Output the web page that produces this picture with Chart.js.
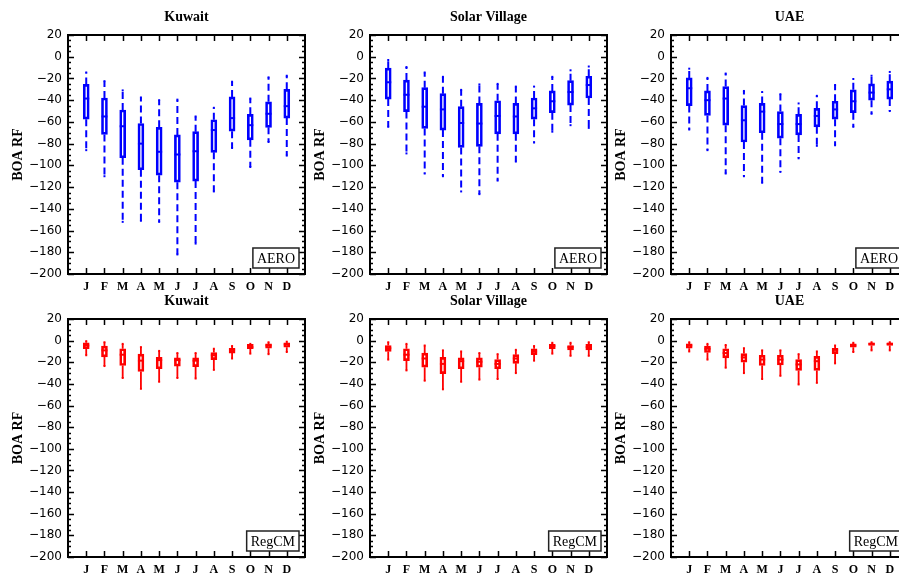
<!DOCTYPE html>
<html><head><meta charset="utf-8">
<script src="https://cdn.jsdelivr.net/npm/chart.js@4.4.1/dist/chart.umd.min.js"></script>
<style>
html,body{margin:0;padding:0;background:#fff;width:899px;height:575px;overflow:hidden;position:relative}
canvas{position:absolute}
</style></head><body>
<script>
// ---- categories ----
const months = ['J','F','M','A','M','J','J','A','S','O','N','D'];

// ---- Kuwait AERO ----
const kuwaitAeroMax = [-14.5,-22.5,-31,-37.5,-40,-39.5,-55,-47,-23,-38.5,-19,-17.5];
const kuwaitAeroQ3  = [-25.5,-38,-49,-61.5,-65,-72,-69,-58,-37,-53,-41.5,-30];
const kuwaitAeroMed = [-38.5,-55,-64,-80,-87.5,-90,-87,-67.5,-56.5,-63,-52.5,-45.5];
const kuwaitAeroQ1  = [-57.5,-71.5,-93,-104,-109,-115.5,-114.5,-88,-68.5,-76.5,-65,-56.5];
const kuwaitAeroMin = [-86,-110,-152,-151,-152,-182,-172,-124,-84,-101.5,-78.5,-91];

// ---- Solar Village AERO ----
const solarAeroMax = [-3,-9.5,-14.5,-18.5,-30.5,-25.5,-25,-27.5,-27.5,-18.5,-12.5,-9];
const solarAeroQ3  = [-10.5,-21.5,-28.5,-34,-46,-43,-40.5,-43,-38,-31.5,-22,-18];
const solarAeroMed = [-23.5,-35,-46,-48.5,-61,-61.5,-54.5,-55,-47.5,-41,-32.5,-26];
const solarAeroQ1  = [-39,-50.5,-66,-67.5,-83.5,-82.5,-71,-71,-57.5,-51.5,-44.5,-38];
const solarAeroMin = [-64.5,-89,-107.5,-110,-124,-126.5,-114,-96.5,-79,-69,-63,-65.5];

// ---- UAE AERO ----
const uaeAeroMax = [-11,-19.5,-15.5,-31.5,-32.5,-34.5,-43,-36,-26,-20.5,-17.5,-14];
const uaeAeroQ3  = [-19.5,-31.5,-27.5,-45,-43,-50.5,-53,-47.5,-41,-30.5,-25,-22.5];
const uaeAeroMed = [-29,-40,-38.5,-58.5,-50.5,-62,-62,-54.5,-48.5,-41,-33,-30];
const uaeAeroQ1  = [-45,-54,-63,-78.5,-70,-75,-72,-64.5,-57.5,-51.5,-40,-39];
const uaeAeroMin = [-67,-86,-107.5,-110,-116,-106,-93.5,-82,-81.5,-64.5,-52.5,-50];

// ---- Kuwait RegCM ----
const kuwaitRegMax = [-0.5,-1.5,-3,-6,-9.5,-11.5,-11.5,-7.5,-5,-3,-1.5,-1];
const kuwaitRegQ3  = [-2,-5,-7.5,-12.5,-15.5,-16,-16,-11,-7,-3.5,-3,-2];
const kuwaitRegMed = [-4.5,-9,-13,-18.5,-18,-18,-18.5,-13.5,-8.5,-6,-4.5,-3.5];
const kuwaitRegQ1  = [-7.5,-15,-23,-28.5,-26,-23.5,-24,-17.5,-11.5,-7.5,-7,-6];
const kuwaitRegMin = [-13.5,-23.5,-34.5,-44.5,-38,-34.5,-35,-27,-16.5,-12,-12.5,-10.5];

// ---- Solar Village RegCM ----
const solarRegMax = [-1.5,-3,-4.5,-9,-10,-11.5,-12.5,-8.5,-5,-2,-2,-1.5];
const solarRegQ3  = [-4.5,-7.5,-11.5,-15.5,-16,-16,-17.5,-13,-7.5,-3.5,-4.5,-3.5];
const solarRegMed = [-7,-13,-16.5,-21.5,-19,-19.5,-21.5,-16.5,-10,-5,-6,-6];
const solarRegQ1  = [-10,-18.5,-24.5,-30.5,-26,-24.5,-26,-21,-13,-7.5,-8.5,-8.5];
const solarRegMin = [-17.5,-27.5,-37,-45,-38,-36,-35.5,-30,-18.5,-12,-14,-14];

// ---- UAE RegCM ----
const uaeRegMax = [-1.5,-3,-4,-7,-9,-9,-12.5,-10,-4.5,-2,-1.5,-1.5];
const uaeRegQ3  = [-3,-5,-7.5,-12,-13.5,-13.5,-17.5,-14.5,-7,-3,-2,-2];
const uaeRegMed = [-4.5,-7.5,-11.5,-15.5,-17.5,-17.5,-22,-19,-8.5,-4.5,-3,-3];
const uaeRegQ1  = [-7,-11,-16,-20,-23,-22.5,-27.5,-27.5,-12,-6,-4.5,-4.5];
const uaeRegMin = [-10,-17.5,-25,-30,-35.5,-32.5,-40.5,-39,-21,-10.5,-9,-9];

// ---- axis ----
const yMin = -200, yMax = 20, yStep = 20, yMinorStep = 5;
const yTitle = 'BOA RF';

const panels = [
  {title:'Kuwait', tag:'AERO', color:'#0000ff', dashed:true, left:68, top:0, h:300, padB:10,
   max:kuwaitAeroMax,q3:kuwaitAeroQ3,med:kuwaitAeroMed,q1:kuwaitAeroQ1,min:kuwaitAeroMin},
  {title:'Solar Village', tag:'AERO', color:'#0000ff', dashed:true, left:370, top:0, h:300, padB:10,
   max:solarAeroMax,q3:solarAeroQ3,med:solarAeroMed,q1:solarAeroQ1,min:solarAeroMin},
  {title:'UAE', tag:'AERO', color:'#0000ff', dashed:true, left:671, top:0, h:300, padB:10,
   max:uaeAeroMax,q3:uaeAeroQ3,med:uaeAeroMed,q1:uaeAeroQ1,min:uaeAeroMin},
  {title:'Kuwait', tag:'RegCM', color:'#ff0000', dashed:false, left:68, top:284, h:291, padB:2,
   max:kuwaitRegMax,q3:kuwaitRegQ3,med:kuwaitRegMed,q1:kuwaitRegQ1,min:kuwaitRegMin},
  {title:'Solar Village', tag:'RegCM', color:'#ff0000', dashed:false, left:370, top:284, h:291, padB:2,
   max:solarRegMax,q3:solarRegQ3,med:solarRegMed,q1:solarRegQ1,min:solarRegMin},
  {title:'UAE', tag:'RegCM', color:'#ff0000', dashed:false, left:671, top:284, h:291, padB:2,
   max:uaeRegMax,q3:uaeRegQ3,med:uaeRegMed,q1:uaeRegQ1,min:uaeRegMin}
];

const framePlugin = {
  id:'frame',
  afterDatasetsDraw(chart, args, opts){
    const {ctx, chartArea:a, scales} = chart;
    const ys = scales.y, xs = scales.x;
    ctx.save();
    ctx.strokeStyle = '#000';
    ctx.lineWidth = 1.5;
    ctx.beginPath();
    for (let v = yMin; v <= yMax; v += yMinorStep) {
      const y = Math.round(ys.getPixelForValue(v)) + 0.5;
      const len = (v % yStep === 0) ? 6 : 3;
      ctx.moveTo(a.left, y); ctx.lineTo(a.left + len, y);
      ctx.moveTo(a.right, y); ctx.lineTo(a.right - len, y);
    }
    for (let i = 1; i <= months.length; i++) {
      const x = Math.round(xs.getPixelForValue(i)) + 0.5;
      ctx.moveTo(x, a.top); ctx.lineTo(x, a.top + 6);
      ctx.moveTo(x, a.bottom); ctx.lineTo(x, a.bottom - 6);
    }
    ctx.stroke();
    ctx.lineWidth = 2;
    ctx.strokeRect(a.left, a.top, a.right - a.left, a.bottom - a.top);
    // title
    ctx.fillStyle = '#000';
    ctx.font = 'bold 14px "Liberation Serif"';
    ctx.textAlign = 'center'; ctx.textBaseline = 'middle';
    ctx.fillText(opts.title, (a.left + a.right) / 2, 17);
    // tag box
    ctx.font = '14px "Liberation Serif"';
    const tw = ctx.measureText(opts.tag).width;
    const bw = tw + 8, bh = 20;
    const bx = a.right - 6 - bw, by = a.bottom - 6 - bh;
    ctx.fillStyle = '#fff';
    ctx.fillRect(bx, by, bw, bh);
    ctx.lineWidth = 1.5; ctx.strokeStyle = '#222';
    ctx.strokeRect(bx, by, bw, bh);
    ctx.fillStyle = '#000';
    ctx.fillText(opts.tag, bx + bw / 2, by + bh / 2 + 1);
    ctx.restore();
  }
};

panels.forEach((p) => {
  const cv = document.createElement('canvas');
  const W = 68 + 237 + 12;
  cv.width = W; cv.height = p.h;
  cv.style.left = (p.left - 68) + 'px';
  cv.style.top = p.top + 'px';
  document.body.appendChild(cv);

  const whisk = [];
  months.forEach((m, i) => {
    whisk.push({x:i+1, y:p.q3[i]}, {x:i+1, y:p.max[i]}, {x:i+1, y:null});
    whisk.push({x:i+1, y:p.q1[i]}, {x:i+1, y:p.min[i]}, {x:i+1, y:null});
  });
  const caps = [];
  months.forEach((m, i) => { caps.push({x:i+1, y:p.max[i]}, {x:i+1, y:p.min[i]}); });

  new Chart(cv, {
    type:'bar',
    data:{
      datasets:[
        {type:'line', label:'median', data:months.map((m,i)=>({x:i+1, y:p.med[i]})),
         showLine:false, pointStyle:'line', pointRadius:3, pointBorderWidth:2,
         borderColor:p.color, backgroundColor:p.color, order:0},
        {type:'bar', label:'box', data:months.map((m,i)=>({x:i+1, y:[p.q1[i], p.q3[i]]})),
         barThickness: 6, borderWidth:2, borderSkipped:false,
         borderColor:p.color, backgroundColor:'rgba(0,0,0,0)', order:1},
        {type:'line', label:'caps', data:caps, showLine:false, pointStyle:'rect',
         pointRadius:1.4, pointBorderWidth:0, backgroundColor:p.color, borderColor:p.color, order:2},
        {type:'line', label:'whiskers', data:whisk, spanGaps:false, pointRadius:0,
         borderWidth: p.dashed ? 2 : 1.8, borderDash: p.dashed ? [7,4] : [],
         borderColor:p.color, order:3}
      ]
    },
    options:{
      responsive:false, animation:false, devicePixelRatio:1,
      layout:{padding:{top:35, right:12, left:0, bottom:p.padB}},
      plugins:{legend:{display:false}, tooltip:{enabled:false},
        frame:{title:p.title, tag:p.tag}},
      scales:{
        x:{type:'linear', min:0, max:months.length+1, offset:false,
           grid:{display:false, drawTicks:false}, border:{display:false},
           afterFit:(s)=>{ s.height = 16; },
           ticks:{stepSize:1, autoSkip:false, maxRotation:0, padding:6, color:'#000',
             font:{family:'"Liberation Serif"', weight:'bold', size:12},
             callback:(v)=> (v>=1 && v<=months.length) ? months[v-1] : ''}},
        y:{type:'linear', min:yMin, max:yMax,
           grid:{display:false, drawTicks:false}, border:{display:false},
           afterFit:(s)=>{ s.width = 68; },
           title:{display:true, text:yTitle, color:'#000', padding:{top:10, bottom:0},
             font:{family:'"Liberation Serif"', weight:'bold', size:14}},
           ticks:{stepSize:yStep, padding:6, color:'#000',
             font:{family:'"DejaVu Sans"', size:12},
             callback:(v)=> v < 0 ? '\u2212' + Math.abs(v) : String(v)}}
      }
    },
    plugins:[framePlugin]
  });
});
</script>
</body></html>
